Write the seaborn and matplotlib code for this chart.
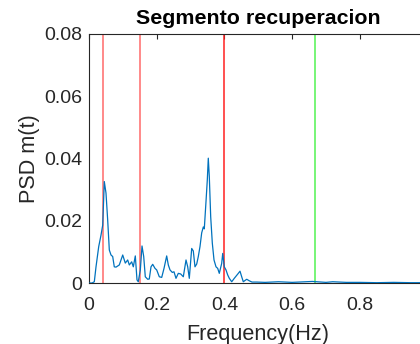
import matplotlib
matplotlib.use("Agg")
import matplotlib.pyplot as plt
import seaborn as sns
import numpy as np
import pandas as pd

title = "Segmento recuperacion"
xlabel = "Frequency(Hz)"
ylabel = "PSD m(t)"

freq = [0.0, 0.0089, 0.0157, 0.0207, 0.0287, 0.0355, 0.0405, 0.0452, 0.0502, 0.0552,
        0.0600, 0.0650, 0.0700, 0.0747, 0.0798, 0.0895, 0.0996, 0.1072, 0.1143, 0.1191,
        0.1261, 0.1309, 0.1368, 0.1418, 0.1456, 0.1516, 0.1566, 0.1616, 0.1663, 0.1734,
        0.1781, 0.1832, 0.1882, 0.1950, 0.2000, 0.2077, 0.2148, 0.2216, 0.2295, 0.2343,
        0.2393, 0.2461, 0.2511, 0.2570, 0.2638, 0.2709, 0.2786, 0.2866, 0.2916, 0.2963,
        0.3034, 0.3081, 0.3131, 0.3182, 0.3229, 0.3279, 0.3329, 0.3377, 0.3406, 0.3456,
        0.3495, 0.3524, 0.3554, 0.3595, 0.3643, 0.3693, 0.3752, 0.3802, 0.3849, 0.3920,
        0.3950, 0.3997, 0.4047, 0.4097, 0.4145, 0.4216, 0.4292, 0.4411, 0.4461, 0.4511,
        0.4558, 0.4659, 0.4736, 0.4815, 0.4954, 0.52, 0.56, 0.60, 0.62, 0.66, 0.70,
        0.72, 0.76, 0.80, 0.85, 0.90, 0.95, 1.0]
psd = [0.0, 0.0, 0.0004, 0.0052, 0.0117, 0.0154, 0.0186, 0.0326, 0.0289, 0.0202,
       0.0106, 0.0090, 0.0085, 0.0052, 0.0051, 0.0058, 0.0090, 0.0064, 0.0074, 0.0058,
       0.0068, 0.0052, 0.0087, 0.0010, 0.0004, 0.0042, 0.0119, 0.0085, 0.0020, 0.0012,
       0.0013, 0.0052, 0.0060, 0.0047, 0.0042, 0.0020, 0.0018, 0.0047, 0.0087, 0.0058,
       0.0042, 0.0034, 0.0036, 0.0015, 0.0031, 0.0029, 0.0020, 0.0074, 0.0052, 0.0015,
       0.0111, 0.0103, 0.0052, 0.0061, 0.0085, 0.0117, 0.0161, 0.0180, 0.0174, 0.0261,
       0.0331, 0.0401, 0.0342, 0.0213, 0.0128, 0.0074, 0.0052, 0.0047, 0.0031, 0.0063,
       0.0095, 0.0052, 0.0042, 0.0026, 0.0015, 0.0004, 0.0015, 0.0031, 0.0038, 0.0020,
       0.0004, 0.0012, 0.0007, 0.0003, 0.0003, 0.0002, 0.0004, 0.0002, 0.0003, 0.0005, 0.0002,
       0.0004, 0.0002, 0.0002, 0.0001, 0.0002, 0.0001, 0.0001]

band_lines = [0.04, 0.15, 0.4]
band_colors = ["#ff6a6a", "#ff6a6a", "#ff2020"]
limit_line = 0.6667
limit_color = "#6cf56c"

xticks = [0, 0.2, 0.4, 0.6, 0.8, 1.0]
xticklabels = ["0", "0.2", "0.4", "0.6", "0.8", ""]
yticks = [0, 0.02, 0.04, 0.06, 0.08]
yticklabels = ["0", "0.02", "0.04", "0.06", "0.08"]

sns.set_style("white")
plt.rcParams["font.family"] = ["Liberation Sans", "DejaVu Sans"]

fig = plt.figure(figsize=(4.2, 3.44), dpi=100)
ax = fig.add_axes([89 / 420, 61 / 344, 338.5 / 420, 249 / 344])

df = pd.DataFrame({"f": freq, "p": psd})
sns.lineplot(data=df, x="f", y="p", ax=ax, color="#0072BD", linewidth=0.9, zorder=3)
for xv, c in zip(band_lines, band_colors):
    ax.axvline(xv, color=c, linewidth=1.1, zorder=2)
ax.axvline(limit_line, color=limit_color, linewidth=1.3, zorder=2)

ax.set_xlim(0, 1)
ax.set_ylim(0, 0.08)
ax.set_xticks(xticks)
ax.set_xticklabels(xticklabels)
ax.set_yticks(yticks)
ax.set_yticklabels(yticklabels)

txt = "#262626"
for s in ax.spines.values():
    s.set_color(txt)
    s.set_linewidth(0.8)
ax.tick_params(axis="both", direction="in", length=3.5, width=0.8, colors=txt,
               labelsize=14, top=True, right=True, labelcolor=txt)
ax.tick_params(axis="x", pad=10)
ax.tick_params(axis="y", pad=5)
ax.set_xlabel(xlabel, fontsize=15.6, color=txt, labelpad=7)
ax.set_ylabel(ylabel, fontsize=15.6, color=txt, labelpad=3)
ax.set_title(title, fontsize=15.4, fontweight="bold", color="black", pad=7)
ax.grid(False)

fig.savefig("out.png", dpi=100)
